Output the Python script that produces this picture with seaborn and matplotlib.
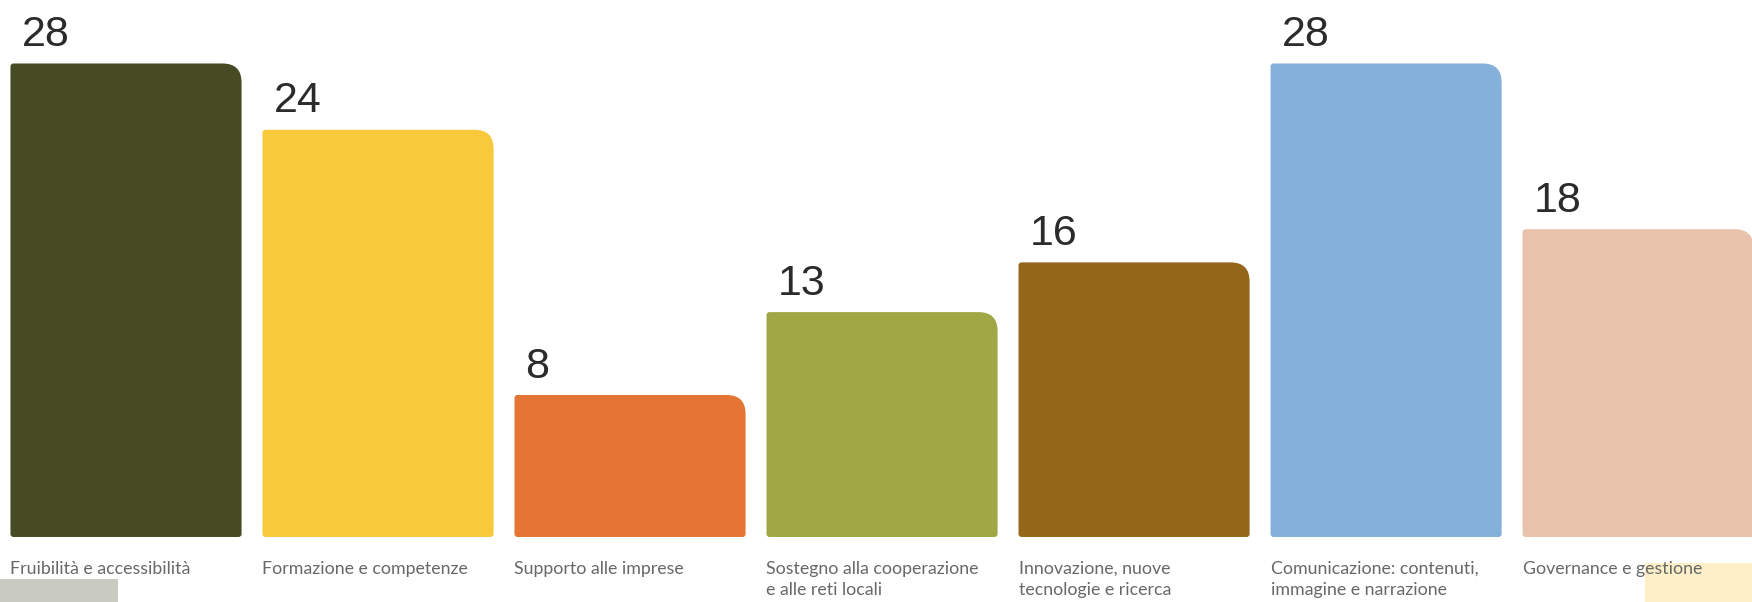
import matplotlib
matplotlib.use("Agg")
import matplotlib.pyplot as plt
from matplotlib.path import Path
from matplotlib.patches import PathPatch, Rectangle
import seaborn as sns
import pandas as pd

# data
categories = [
    "Fruibilità e accessibilità",
    "Formazione e competenze",
    "Supporto alle imprese",
    "Sostegno alla cooperazione\ne alle reti locali",
    "Innovazione, nuove\ntecnologie e ricerca",
    "Comunicazione: contenuti,\nimmagine e narrazione",
    "Governance e gestione",
]
values = [28, 24, 8, 13, 16, 28, 18]
colors = ["#464b23", "#f7c93b", "#e57534", "#a0a846", "#93681b", "#84b0da", "#e8c2ab"]

W, H = 1752, 602
XLIM = (-0.5, 6.452)
YLIM = (-4.49, 31.83)
PAD = 0.567  # bars start a little below zero

sns.set_theme(style="white")
plt.rcParams['font.family'] = ['Liberation Sans', 'DejaVu Sans']

fig = plt.figure(figsize=(W / 100, H / 100), dpi=100)
ax = fig.add_axes([0, 0, 1, 1])

df = pd.DataFrame({"cat": categories, "val": values})
sns.barplot(data=df, x="cat", y="val", hue="cat", palette=colors, saturation=1,
            legend=False, width=0.917, ax=ax)
ax.set_xlim(*XLIM)
ax.set_ylim(*YLIM)
ax.axis("off")

ux = (XLIM[1] - XLIM[0]) / W   # data units per pixel
uy = (YLIM[1] - YLIM[0]) / H


def bar_path(x0, x1, y0, y1, r_tr=19, r=3):
    # rounded rectangle, big radius on top-right corner only
    verts = [
        (x0 + r * ux, y0),
        (x1 - r * ux, y0), (x1, y0), (x1, y0 + r * uy),
        (x1, y1 - r_tr * uy), (x1, y1), (x1 - r_tr * ux, y1),
        (x0 + r * ux, y1), (x0, y1), (x0, y1 - r * uy),
        (x0, y0 + r * uy), (x0, y0), (x0 + r * ux, y0),
        (x0 + r * ux, y0),
    ]
    codes = [Path.MOVETO,
             Path.LINETO, Path.CURVE3, Path.CURVE3,
             Path.LINETO, Path.CURVE3, Path.CURVE3,
             Path.LINETO, Path.CURVE3, Path.CURVE3,
             Path.LINETO, Path.CURVE3, Path.CURVE3,
             Path.CLOSEPOLY]
    return Path(verts, codes)


bars = list(ax.patches)
for p, v, lab in zip(bars, values, categories):
    x0 = p.get_x()
    x1 = x0 + p.get_width()
    top = p.get_y() + p.get_height()
    fc = p.get_facecolor()
    p.remove()
    ax.add_patch(PathPatch(bar_path(x0, x1, -PAD, top), facecolor=fc,
                           edgecolor="none", zorder=2))
    ax.annotate(str(v), xy=(x0, top), xytext=(8, 12.5), textcoords="offset points",
                ha="left", va="baseline", fontsize=31, color="#2b2b2b")
    ax.text(x0, 1 - 561 / H, lab, transform=ax.get_xaxis_transform(),
            ha="left", va="top", fontsize=12.8, color="#686868",
            linespacing=1.42, family=["Lato", "DejaVu Sans"], zorder=4)

# bits of the neighbouring slide peeking in at the bottom
ax.add_patch(Rectangle((0, 0), 118 / W, 23 / H, transform=ax.transAxes,
                       facecolor="#c9cbc1", edgecolor="none", zorder=1))
ax.add_patch(Rectangle((1645 / W, 0), 107 / W, 39 / H, transform=ax.transAxes,
                       facecolor="#fdf0c9", edgecolor="none", zorder=1))

fig.savefig("out.png", dpi=100, facecolor="white")
